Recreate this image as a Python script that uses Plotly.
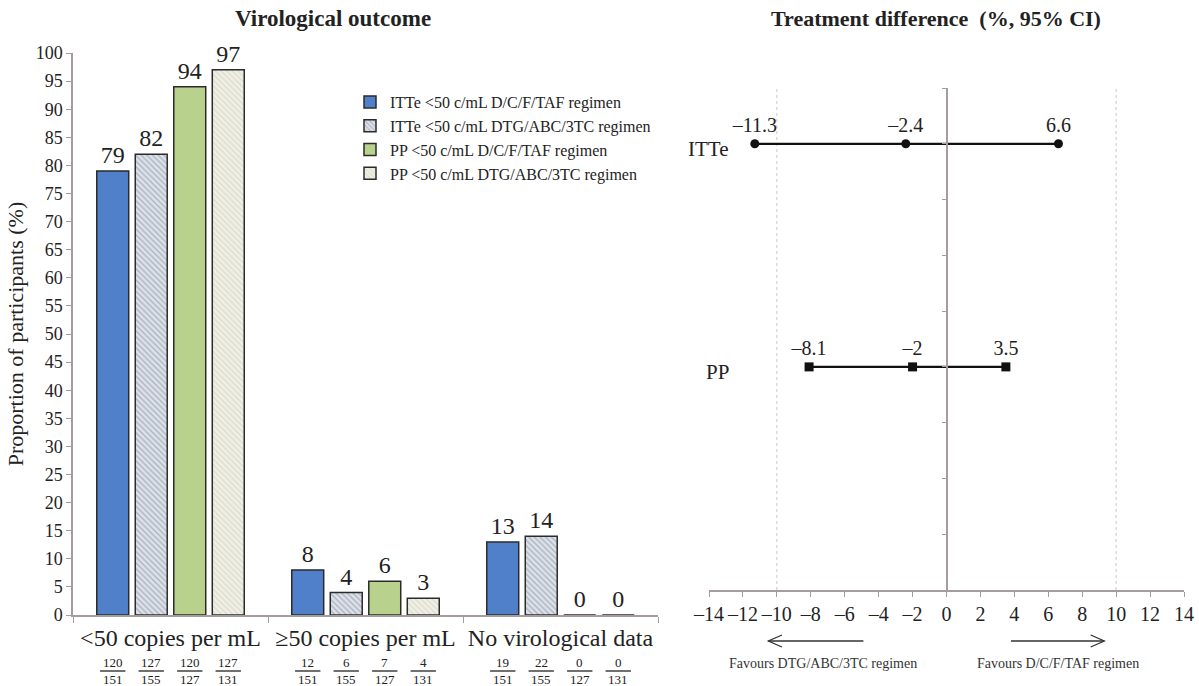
import plotly.graph_objects as go

# ---- Virological outcome (left panel) ----
categories = ["<50 copies per mL", "≥50 copies per mL", "No virological data"]
series_names = [
    "ITTe <50 c/mL D/C/F/TAF regimen",
    "ITTe <50 c/mL DTG/ABC/3TC regimen",
    "PP <50 c/mL D/C/F/TAF regimen",
    "PP <50 c/mL DTG/ABC/3TC regimen",
]
itte_dcf = [79, 8, 13]
itte_dtg = [82, 4, 14]
pp_dcf = [94, 6, 0]
pp_dtg = [97, 3, 0]
numerators = [
    [120, 12, 19],
    [127, 6, 22],
    [120, 7, 0],
    [127, 4, 0],
]
denominators = [
    [151, 151, 151],
    [155, 155, 155],
    [127, 127, 127],
    [131, 131, 131],
]

# ---- Treatment difference (right panel) ----
populations = ["ITTe", "PP"]
pop_levels = [8, 4]
ci_low = [-11.3, -8.1]
point_est = [-2.4, -2.0]
ci_high = [6.6, 3.5]
diff_ticks = list(range(-14, 15, 2))

FONT = "Liberation Serif, Times New Roman, serif"
AXIS_GREY = "#a59d9d"
TXT = "#222"
W, H = 1199, 686


def px(x):
    """pixel column -> paper fraction"""
    return x / W


def py(y):
    """pixel row (from top) -> paper fraction"""
    return 1 - y / H


fills = ["#4f80c9", "#dde2ea", "#b8d18d", "#f0f0e6"]
hatch_fg = [None, "#7b8494", None, "#c9c9b4"]
series_vals = [itte_dcf, itte_dtg, pp_dcf, pp_dtg]

fig = go.Figure()

for i, (name, vals) in enumerate(zip(series_names, series_vals)):
    pattern = dict(shape="")
    if hatch_fg[i]:
        pattern = dict(shape="\\", fgcolor=hatch_fg[i], bgcolor=fills[i],
                       size=4, solidity=0.35, fillmode="overlay")
    fig.add_trace(go.Bar(
        x=categories, y=vals, name=name,
        marker=dict(color=fills[i], line=dict(color="#2b2b2b", width=1.5),
                    pattern=pattern),
        text=[str(v) for v in vals], textposition="outside",
        textfont=dict(family=FONT, size=24, color=TXT),
        cliponaxis=False, legendgroup=f"g{i}",
        xaxis="x", yaxis="y",
    ))

bargap = 0.21
slot = (1 - bargap) / 4
annotations = []
shapes = []
for s in range(4):
    off = (s - 1.5) * slot
    for c in range(3):
        xc = c + off
        annotations.append(dict(x=xc, y=py(662), xref="x", yref="paper",
                                text=str(numerators[s][c]), showarrow=False,
                                font=dict(family=FONT, size=13, color=TXT),
                                xanchor="center", yanchor="middle"))
        annotations.append(dict(x=xc, y=py(679), xref="x", yref="paper",
                                text=str(denominators[s][c]), showarrow=False,
                                font=dict(family=FONT, size=13, color=TXT),
                                xanchor="center", yanchor="middle"))
        shapes.append(dict(type="line", xref="x", yref="paper",
                           x0=xc - 0.065, x1=xc + 0.065,
                           y0=py(671), y1=py(671),
                           line=dict(color=TXT, width=1.3)))

# forest plot rows
symbols = ["circle", "square"]
label_x = diff_ticks[0] + 1.3
for p, lvl, lo, est, hi, sym in zip(populations, pop_levels, ci_low, point_est, ci_high, symbols):
    xs = [lo, est, hi]
    fig.add_trace(go.Scatter(
        x=xs, y=[lvl] * 3, mode="lines+markers+text",
        line=dict(color="#111", width=2.2),
        marker=dict(symbol=sym, size=9, color="#111"),
        text=[f"{v:g}".replace("-", "–") for v in xs],
        textposition="top center",
        textfont=dict(family=FONT, size=20, color=TXT),
        showlegend=False, cliponaxis=False,
        xaxis="x2", yaxis="y2",
    ))
    annotations.append(dict(x=label_x, y=lvl - 0.1, xref="x2", yref="y2",
                            text=p, showarrow=False, xanchor="right", yanchor="middle",
                            font=dict(family=FONT, size=21, color=TXT)))

x2_dom = [px(709), px(1184)]
zero_pos = x2_dom[0] + (0 - diff_ticks[0]) / (diff_ticks[-1] - diff_ticks[0]) * (x2_dom[1] - x2_dom[0])

for xv in (-10, 10):
    shapes.append(dict(type="line", xref="x2", yref="y2 domain", x0=xv, x1=xv,
                       y0=0, y1=1, line=dict(color="#c9c9c9", width=1, dash="dot"),
                       layer="below"))

# direction arrows below the difference axis
arrow_y = py(641)
for tail, head in ((-4.9, -10.5), (3.8, 9.3)):
    shapes.append(dict(type="line", xref="x2", yref="paper", x0=tail, x1=head,
                       y0=arrow_y, y1=arrow_y, line=dict(color="#333", width=1.3)))
    d = 0.8 if head < tail else -0.8
    shapes.append(dict(type="path", xref="x2", yref="paper",
                       path=f"M {head + d} {arrow_y + 6 / H} L {head} {arrow_y} L {head + d} {arrow_y - 6 / H}",
                       line=dict(color="#333", width=1.3)))
annotations.append(dict(x=-7.3, y=py(663), xref="x2", yref="paper",
                        text="Favours DTG/ABC/3TC regimen", showarrow=False,
                        xanchor="center", yanchor="middle",
                        font=dict(family=FONT, size=14, color="#333")))
annotations.append(dict(x=6.6, y=py(663), xref="x2", yref="paper",
                        text="Favours D/C/F/TAF regimen", showarrow=False,
                        xanchor="center", yanchor="middle",
                        font=dict(family=FONT, size=14, color="#333")))

# panel titles
annotations.append(dict(x=px(333), y=py(18), xref="paper", yref="paper",
                        text="<b>Virological outcome</b>", showarrow=False,
                        xanchor="center", yanchor="middle",
                        font=dict(family=FONT, size=23, color=TXT)))
annotations.append(dict(x=px(936), y=py(18), xref="paper", yref="paper",
                        text="<b>Treatment difference</b>  <b>(%, 95% CI)</b>", showarrow=False,
                        xanchor="center", yanchor="middle",
                        font=dict(family=FONT, size=22, color=TXT)))

fig.update_layout(
    width=W, height=H,
    margin=dict(l=0, r=0, t=0, b=0, autoexpand=False),
    paper_bgcolor="white", plot_bgcolor="white",
    barmode="group", bargap=bargap, bargroupgap=0.17,
    font=dict(family=FONT, color=TXT),
    showlegend=True,
    legend=dict(x=px(350), y=py(85), xanchor="left", yanchor="top",
                font=dict(family=FONT, size=16, color=TXT),
                tracegroupgap=0, bgcolor="rgba(0,0,0,0)"),
    xaxis=dict(domain=[px(73), px(658)], anchor="y", type="category",
               automargin=False, tickangle=0,
               showline=True, linecolor=AXIS_GREY, linewidth=1.5,
               ticks="outside", tickson="boundaries", ticklen=6, tickcolor=AXIS_GREY,
               tickfont=dict(family=FONT, size=24, color=TXT),
               showgrid=False),
    yaxis=dict(domain=[py(615), py(53)], anchor="x", range=[0, 100],
               automargin=False,
               dtick=5, showline=True, linecolor=AXIS_GREY, linewidth=1.5,
               ticks="outside", ticklen=5, tickcolor=AXIS_GREY,
               tickfont=dict(family=FONT, size=18, color=TXT),
               showgrid=False, zeroline=False,
               title=dict(text="Proportion of participants (%)",
                          font=dict(family=FONT, size=22, color=TXT), standoff=6)),
    xaxis2=dict(domain=x2_dom, anchor="y2", range=[diff_ticks[0], diff_ticks[-1]],
                automargin=False, tickangle=0,
                tickvals=diff_ticks,
                ticktext=[str(t).replace("-", "–") for t in diff_ticks],
                showline=True, linecolor=AXIS_GREY, linewidth=1.5,
                ticks="outside", ticklen=5, tickcolor=AXIS_GREY,
                tickfont=dict(family=FONT, size=20, color=TXT),
                showgrid=False, zeroline=False),
    yaxis2=dict(domain=[py(590), py(88)], anchor="free", position=zero_pos,
                automargin=False,
                range=[0, 9], dtick=1, showline=True, linecolor=AXIS_GREY, linewidth=1.5,
                ticks="outside", ticklen=4, tickcolor=AXIS_GREY,
                showticklabels=False, showgrid=False, zeroline=False),
    annotations=annotations,
    shapes=shapes,
)

fig.write_html("out.html")
